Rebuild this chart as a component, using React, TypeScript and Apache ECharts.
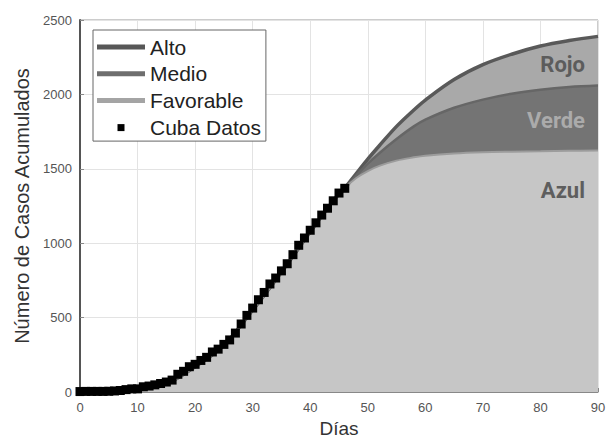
import React, { useEffect, useRef } from "react";
import * as echarts from "echarts";

// Observed data (Cuba Datos), one point per day from day 0 to day 46
const dataDays = Array.from({ length: 47 }, (_, i) => i);
const cubaDatos = [
  3, 4, 4, 4, 4, 5, 7, 10, 16, 21, 21, 35, 40, 48, 57, 67, 80, 119, 139, 170,
  186, 212, 233, 269, 288, 320, 350, 396, 457, 515, 564, 620, 669, 726, 766,
  814, 862, 923, 986, 1035, 1087, 1137, 1189, 1235, 1285, 1337, 1369,
];

// Model scenarios
const modelDays = [0, 5, 10, 15, 20, 25, 30, 35, 40, 44, 46, 48, 50, 52, 55, 58, 60, 65, 70, 75, 80, 85, 90];
const alto = [2, 4, 16, 55, 170, 315, 550, 805, 1075, 1285, 1370, 1468, 1565, 1655, 1785, 1895, 1962, 2100, 2200, 2270, 2325, 2362, 2390];
const medio = [2, 4, 16, 55, 170, 315, 550, 805, 1075, 1285, 1370, 1455, 1535, 1605, 1700, 1785, 1830, 1910, 1965, 2005, 2032, 2050, 2060];
const favorable = [2, 4, 16, 55, 170, 315, 550, 805, 1075, 1285, 1370, 1438, 1485, 1520, 1555, 1577, 1588, 1603, 1611, 1615, 1618, 1621, 1623];

const xTicks = { min: 0, max: 90, interval: 10 };
const yTicks = { min: 0, max: 2500, interval: 500 };

const regionLabels = [
  { text: "Rojo", y: 66, color: "#5c5c5c" },
  { text: "Verde", y: 122, color: "#ababab" },
  { text: "Azul", y: 192, color: "#5e5e5e" },
];

const lineIcon = "path://M0,0M48,8M0,1.5L48,1.5L48,6.5L0,6.5Z";
const squareIcon = "path://M0,0M48,8M20.5,1L27.5,1L27.5,8L20.5,8Z";

const pairs = (xs: number[], ys: number[]) => xs.map((x, i) => [x, ys[i]]);

export default function App() {
  const ref = useRef<HTMLDivElement>(null);
  useEffect(() => {
    if (!ref.current) return;
    const chart = echarts.init(ref.current, undefined, { renderer: "svg" });
    const font = "Liberation Sans, Arial, sans-serif";
    const areaSeries = (name: string, ys: number[], line: string, fill: string, w: number) => ({
      name,
      type: "line",
      data: pairs(modelDays, ys),
      smooth: 0.35,
      symbol: "none",
      color: line,
      itemStyle: { color: line },
      lineStyle: { color: line, width: w },
      areaStyle: { color: fill, opacity: 1 },
    });
    chart.setOption({
      animation: false,
      grid: {
        left: 80,
        right: 8,
        top: 20,
        bottom: 46,
        outerBoundsMode: "none",
        containLabel: false,
        show: true,
        borderColor: "#999",
        borderWidth: 1,
      },
      legend: {
        orient: "vertical",
        left: 93,
        top: 30,
        itemWidth: 48,
        itemHeight: 8,
        itemGap: 4.7,
        padding: [6, 5, 3, 4],
        backgroundColor: "#fff",
        borderColor: "#666",
        borderWidth: 1,
        itemStyle: { borderWidth: 0 },
        textStyle: { fontFamily: font, fontSize: 21, lineHeight: 22, color: "#222" },
        data: [
          { name: "Alto", icon: lineIcon, itemStyle: { color: "#575757" } },
          { name: "Medio", icon: lineIcon, itemStyle: { color: "#6e6e6e" } },
          { name: "Favorable", icon: lineIcon, itemStyle: { color: "#a4a4a4" } },
          { name: "Cuba Datos", icon: squareIcon, itemStyle: { color: "#000" } },
        ],
      },
      xAxis: {
        type: "value",
        ...xTicks,
        name: "Días",
        nameLocation: "middle",
        nameGap: 24,
        nameTextStyle: { fontFamily: font, fontSize: 19, lineHeight: 20, color: "#333" },
        axisLine: { show: true, lineStyle: { color: "#888", width: 1 } },
        axisTick: { show: true, inside: true, length: 4, lineStyle: { color: "#888" } },
        axisLabel: { fontFamily: font, fontSize: 13, color: "#555", margin: 9 },
        splitLine: { show: true, lineStyle: { color: "#e3e3e3", width: 1 } },
      },
      yAxis: {
        type: "value",
        ...yTicks,
        name: "Número de Casos Acumulados",
        nameLocation: "middle",
        nameGap: 47,
        nameTextStyle: { fontFamily: font, fontSize: 20, color: "#333" },
        axisLine: { show: true, lineStyle: { color: "#555", width: 2 } },
        axisTick: { show: true, inside: true, length: 4, lineStyle: { color: "#888" } },
        axisLabel: {
          fontFamily: font,
          fontSize: 13,
          color: "#555",
          margin: 8,
          formatter: (v: number) => String(v),
        },
        splitLine: { show: true, lineStyle: { color: "#e3e3e3", width: 1 } },
      },
      series: [
        areaSeries("Alto", alto, "#595959", "#a9a9a9", 3.5),
        areaSeries("Medio", medio, "#666666", "#747474", 2.5),
        areaSeries("Favorable", favorable, "#9c9c9c", "#c6c6c6", 2),
        {
          name: "Cuba Datos",
          type: "scatter",
          data: pairs(dataDays, cubaDatos),
          symbol: "rect",
          symbolSize: 9,
          itemStyle: { color: "#000", opacity: 1 },
          z: 5,
        },
      ],
      graphic: regionLabels.map((l) => ({
        type: "text",
        right: 21,
        top: l.y - 13,
        z: 100,
        style: {
          text: l.text,
          fill: l.color,
          font: "bold 22px Roboto, sans-serif",
        },
      })),
    });
    return () => chart.dispose();
  }, []);
  return (
    <div
      ref={ref}
      style={{ position: "fixed", left: 0, top: 0, width: 606, height: 438, background: "#fff" }}
    />
  );
}
